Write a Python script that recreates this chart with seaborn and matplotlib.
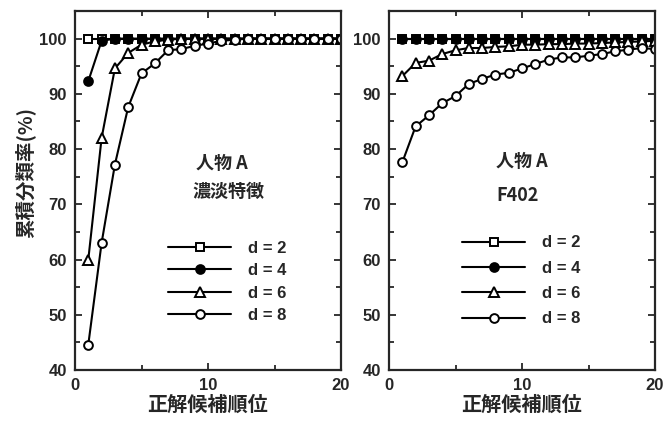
import numpy as np
import pandas as pd
import seaborn as sns
import matplotlib.pyplot as plt
from matplotlib.ticker import MultipleLocator

# rank of the correct candidate
rank = list(range(1, 21))

# left panel: 人物A 濃淡特徴
left_d2 = [100] * 20
left_d4 = [92.3, 99.6] + [100] * 18
left_d6 = [60, 82, 94.6, 97.4, 98.9, 99.5, 99.8] + [100] * 13
left_d8 = [44.6, 63, 77.2, 87.6, 93.7, 95.5, 97.9, 98.1, 98.7, 99.1,
           99.6, 99.8] + [100] * 8

# right panel: 人物A F402
right_d2 = [100] * 20
right_d4 = [100] * 20
right_d6 = [93.2, 95.6, 96.0, 97.2, 97.9, 98.3, 98.3, 98.5, 98.6, 98.9,
            98.9, 99.0, 99.0, 99.1, 99.1, 99.2, 99.3, 99.4, 99.5, 99.6]
right_d8 = [77.6, 84.1, 86.1, 88.3, 89.6, 91.8, 92.7, 93.5, 93.8, 94.6,
            95.4, 96.2, 96.6, 96.6, 96.9, 97.2, 97.7, 98.0, 98.3, 98.1]

labels = ['d = 2', 'd = 4', 'd = 6', 'd = 8']
markers = ['s', 'o', '^', 'o']
faces = ['white', 'black', 'white', 'white']

sns.set_style('ticks')
plt.rcParams['font.family'] = ['Liberation Sans', 'Noto Sans CJK JP', 'DejaVu Sans']
plt.rcParams['font.weight'] = 'bold'
jp = ['Noto Sans CJK JP', 'DejaVu Sans']

fig = plt.figure(figsize=(6.72, 4.28), dpi=100)
ax1 = fig.add_axes([75/672, 58/428, 266/672, 359/428])
ax2 = fig.add_axes([389/672, 58/428, 266/672, 359/428])


def panel(ax, series, name_pos, caption, cap_pos, leg_anchor, spacing):
    for ys, lab, m, fc in zip(series, labels, markers, faces):
        df = pd.DataFrame({'rank': rank, 'rate': ys})
        sns.lineplot(data=df, x='rank', y='rate', ax=ax, color='black',
                     linewidth=1.5, marker=m, markersize=6.3 if m != '^' else 6.8,
                     markerfacecolor=fc, markeredgecolor='black',
                     markeredgewidth=1.4, label=lab)
    ax.set_xlim(0, 20)
    ax.set_ylim(40, 105)
    ax.xaxis.set_major_locator(MultipleLocator(10))
    ax.xaxis.set_minor_locator(MultipleLocator(5))
    ax.yaxis.set_major_locator(MultipleLocator(10))
    ax.yaxis.set_minor_locator(MultipleLocator(5))
    ax.tick_params(which='both', direction='in', top=True, right=True,
                   width=1.3, labelsize=12, pad=6)
    ax.tick_params(which='major', length=5)
    ax.tick_params(which='minor', length=3.5)
    for s in ax.spines.values():
        s.set_linewidth(1.6)
    ax.set_xlabel('正解候補順位', fontsize=14.5, family=jp, weight='bold', labelpad=0)
    ax.set_ylabel('')
    ax.text(*name_pos, '人物 A', transform=ax.transAxes, ha='center',
            va='center', fontsize=13, family=jp, weight='bold')
    ax.text(*cap_pos, caption, transform=ax.transAxes, ha='center', va='center',
            fontsize=13, family=jp, weight='bold')
    ax.legend(loc='upper left', bbox_to_anchor=leg_anchor, frameon=False,
              handlelength=3.8, handletextpad=1.0, labelspacing=spacing,
              borderpad=0, borderaxespad=0, numpoints=1, fontsize=12)


panel(ax1, [left_d2, left_d4, left_d6, left_d8], (0.553, 0.575),
      '濃淡特徴', (0.575, 0.496), (0.35, 0.36), 0.45)
panel(ax2, [right_d2, right_d4, right_d6, right_d8], (0.499, 0.582),
      'F402', (0.485, 0.485), (0.274, 0.375), 0.62)

fig.text(25/672, 1 - 172/428, '累積分類率(%)', rotation=90, ha='center',
         va='center', fontsize=14, family=jp, weight='bold')

fig.savefig('out.png', dpi=100)
